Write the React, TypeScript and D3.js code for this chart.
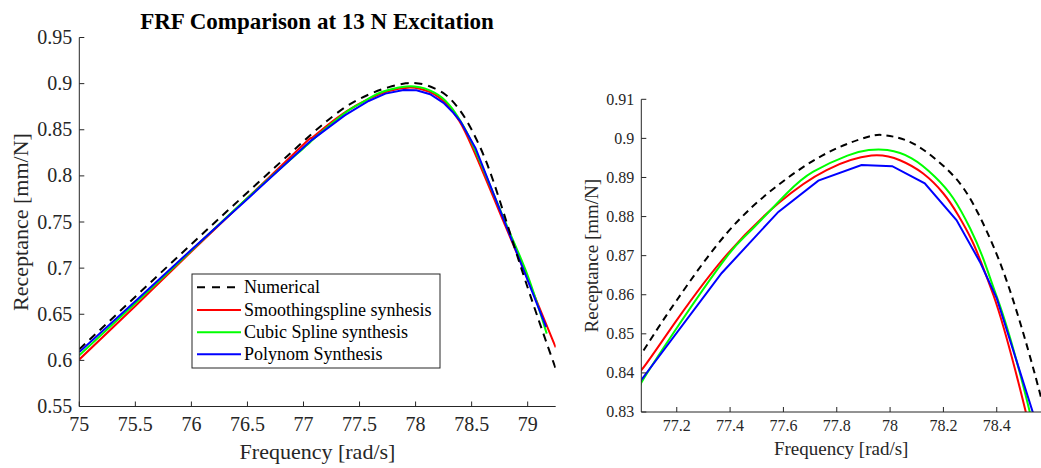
import React from "react";
import * as d3 from "d3";

// ---------- data ----------
const numFreq = [75.0, 75.5, 76.0, 76.5, 77.0, 77.2, 77.387, 77.581, 77.762, 77.912, 77.981, 78.074, 78.174, 78.262, 78.325, 78.374, 78.449, 78.562, 78.7, 78.9, 79.1, 79.25];
const numVals = [0.612, 0.669, 0.726, 0.782, 0.8375, 0.8586, 0.8757, 0.8881, 0.8962, 0.9003, 0.9008, 0.8991, 0.8945, 0.8885, 0.8815, 0.8745, 0.8612, 0.8348, 0.792, 0.716, 0.643, 0.591];

const smFreq = [75.0, 75.5, 76.0, 76.5, 77.0, 77.067, 77.2, 77.387, 77.581, 77.762, 77.93, 78.037, 78.124, 78.2, 78.255, 78.306, 78.343, 78.387, 78.509, 78.8, 79.0, 79.25];
const smVals = [0.601, 0.659, 0.718, 0.776, 0.834, 0.8407, 0.8535, 0.8702, 0.8834, 0.8919, 0.8956, 0.8944, 0.891, 0.8859, 0.8804, 0.874, 0.868, 0.86, 0.830, 0.746, 0.688, 0.614];

const csFreq = [75.0, 75.5, 76.0, 76.5, 77.0, 77.067, 77.2, 77.387, 77.473, 77.612, 77.712, 77.84, 77.92, 77.99, 78.081, 78.168, 78.237, 78.3, 78.349, 78.4, 78.524, 78.8, 79.0, 79.17];
const csVals = [0.6055, 0.662, 0.719, 0.776, 0.830, 0.8375, 0.8515, 0.8697, 0.8761, 0.8859, 0.8915, 0.8956, 0.897, 0.897, 0.8949, 0.8902, 0.8847, 0.877, 0.8693, 0.8595, 0.830, 0.75, 0.692, 0.629];

const polyFreq = [75.0, 75.5, 76.0, 76.5, 77.067, 77.368, 77.581, 77.731, 77.893, 78.008, 78.13, 78.249, 78.337, 78.4, 78.535, 78.85, 79.164];
const polyVals = [0.609, 0.664, 0.72, 0.775, 0.8382, 0.8655, 0.8812, 0.8892, 0.8932, 0.8929, 0.8885, 0.8791, 0.8684, 0.8591, 0.830, 0.733, 0.6364];

const seriesNames = ["Numerical", "Smoothingspline synhesis", "Cubic Spline synthesis", "Polynom Synthesis"];

const leftXTicks = [75, 75.5, 76, 76.5, 77, 77.5, 78, 78.5, 79];
const leftYTicks = [0.55, 0.6, 0.65, 0.7, 0.75, 0.8, 0.85, 0.9, 0.95];
const rightXTicks = [77.2, 77.4, 77.6, 77.8, 78, 78.2, 78.4];
const rightYTicks = [0.83, 0.84, 0.85, 0.86, 0.87, 0.88, 0.89, 0.9, 0.91];

const titleText = "FRF Comparison at 13 N Excitation";
const xLabelText = "Frequency [rad/s]";
const yLabelText = "Receptance [mm/N]";

// ---------- styling ----------
const FONT = "'Liberation Serif', 'Times New Roman', serif";
const AXIS = "#262626";
const styles = [
  { color: "#000000", dash: "8,6" },
  { color: "#ff0000", dash: null },
  { color: "#00ff00", dash: null },
  { color: "#0000ff", dash: null },
];

function zip(f: number[], v: number[]) {
  return f.map((x, i) => [x, v[i]] as [number, number]);
}
const seriesData = [
  { pts: zip(numFreq, numVals), curve: d3.curveNatural },
  { pts: zip(smFreq, smVals), curve: d3.curveNatural },
  { pts: zip(csFreq, csVals), curve: d3.curveNatural },
  { pts: zip(polyFreq, polyVals), curve: d3.curveLinear },
];
const drawOrder = [1, 2, 3, 0];

type PanelProps = {
  id: string;
  x0: number; x1: number; y0: number; y1: number;
  xDom: [number, number]; yDom: [number, number];
  xTicks: number[]; yTicks: number[];
  tickFont: number; labelFont: number;
  xLabelY: number; yLabelX: number;
  dash: string; tickLen: number;
};

function Panel(p: PanelProps) {
  const xs = d3.scaleLinear().domain(p.xDom).range([p.x0, p.x1]);
  const ys = d3.scaleLinear().domain(p.yDom).range([p.y1, p.y0]);
  const fmt = (v: number) => String(+v.toFixed(3));
  return (
    <g>
      <defs>
        <clipPath id={p.id}>
          <rect x={p.x0} y={p.y0} width={p.x1 - p.x0} height={p.y1 - p.y0} />
        </clipPath>
      </defs>
      <g clipPath={`url(#${p.id})`}>
        {drawOrder.map((i) => {
          const s = seriesData[i];
          const line = d3.line<[number, number]>().x((d) => xs(d[0])).y((d) => ys(d[1])).curve(s.curve);
          return (
            <path key={i} d={line(s.pts) || ""} fill="none" stroke={styles[i].color}
              strokeWidth={2} strokeDasharray={styles[i].dash ? p.dash : undefined} />
          );
        })}
      </g>
      {/* axes */}
      <line x1={p.x0} x2={p.x1} y1={p.y1} y2={p.y1} stroke={AXIS} strokeWidth={1} />
      <line x1={p.x0} x2={p.x0} y1={p.y0} y2={p.y1} stroke={AXIS} strokeWidth={1} />
      {p.xTicks.map((t) => (
        <g key={"x" + t}>
          <line x1={xs(t)} x2={xs(t)} y1={p.y1} y2={p.y1 - p.tickLen} stroke={AXIS} strokeWidth={1} />
          <text x={xs(t)} y={p.y1 + p.tickFont * 1.2} textAnchor="middle" fontSize={p.tickFont} fill={AXIS} fontFamily={FONT}>{fmt(t)}</text>
        </g>
      ))}
      {p.yTicks.map((t) => (
        <g key={"y" + t}>
          <line x1={p.x0} x2={p.x0 + p.tickLen} y1={ys(t)} y2={ys(t)} stroke={AXIS} strokeWidth={1} />
          <text x={p.x0 - 7} y={ys(t)} dy="0.33em" textAnchor="end" fontSize={p.tickFont} fill={AXIS} fontFamily={FONT}>{fmt(t)}</text>
        </g>
      ))}
      <text x={(p.x0 + p.x1) / 2} y={p.xLabelY} textAnchor="middle" fontSize={p.labelFont} fill={AXIS} fontFamily={FONT}>{xLabelText}</text>
      <text transform={`translate(${p.yLabelX},${(p.y0 + p.y1) / 2}) rotate(-90)`} textAnchor="middle" dy="0.35em" fontSize={p.labelFont} fill={AXIS} fontFamily={FONT}>{yLabelText}</text>
    </g>
  );
}

function Legend() {
  const bx = 192, by = 274, bw = 248, bh = 94;
  const rowY = [287.3, 310, 332.3, 354.3];
  return (
    <g>
      <rect x={bx} y={by} width={bw} height={bh} fill="#ffffff" stroke={AXIS} strokeWidth={1} />
      {seriesNames.map((n, i) => (
        <g key={n}>
          <line x1={197} x2={241} y1={rowY[i]} y2={rowY[i]} stroke={styles[i].color} strokeWidth={2}
            strokeDasharray={styles[i].dash ? "8,7" : undefined} />
          <text x={244} y={rowY[i]} dy="0.33em" fontSize={18} fill="#000" fontFamily={FONT}>{n}</text>
        </g>
      ))}
    </g>
  );
}

export default function App() {
  return (
    <div style={{ position: "fixed", left: 0, top: 0 }}>
      <svg width={1041} height={468} style={{ display: "block", background: "#fff" }}>
        <rect x={0} y={0} width={1041} height={468} fill="#fff" />
        <text x={317} y={29} textAnchor="middle" fontSize={23} fontWeight="bold" fill="#000" fontFamily={FONT}>{titleText}</text>
        <Panel id="clipL" x0={79.3} x1={555.7} y0={37.5} y1={406.5}
          xDom={[75, 79.25]} yDom={[0.55, 0.95]} xTicks={leftXTicks} yTicks={leftYTicks}
          tickFont={20} labelFont={22} xLabelY={459} yLabelX={20} dash="8,6" tickLen={5} />
        <Legend />
        <Panel id="clipR" x0={641.3} x1={1041} y0={99.3} y1={412}
          xDom={[77.067, 78.566]} yDom={[0.83, 0.91]} xTicks={rightXTicks} yTicks={rightYTicks}
          tickFont={16} labelFont={19} xLabelY={455} yLabelX={591} dash="7,5" tickLen={5} />
      </svg>
    </div>
  );
}
